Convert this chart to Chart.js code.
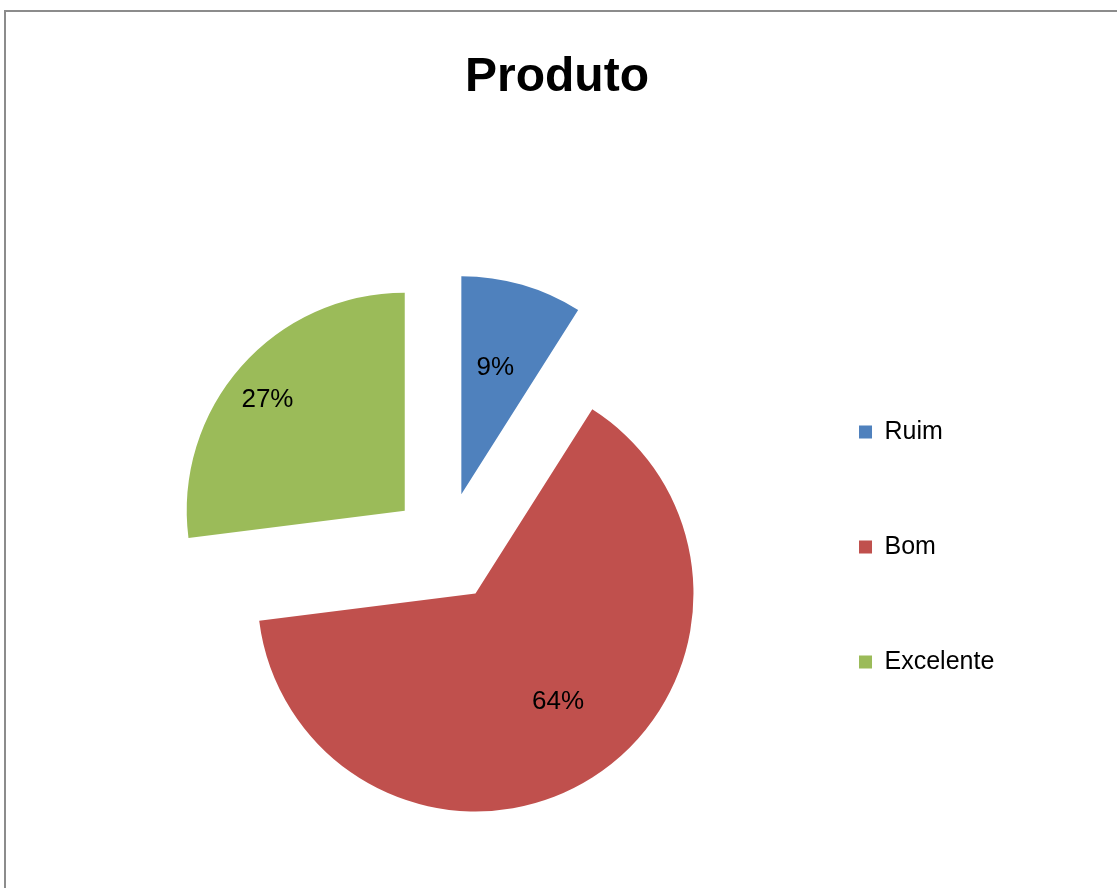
<!DOCTYPE html>
<html>
<head>
<meta charset="utf-8">
<script src="https://cdn.jsdelivr.net/npm/chart.js@4"></script>
<style>
    html, body { margin: 0; padding: 0; background: #fff; }
    #wrap { position: relative; width: 1117px; height: 888px; overflow: hidden; }
    #frame {
        position: absolute; left: 4px; top: 10px; width: 1200px; height: 1000px;
        border-left: 2px solid #8c8c8c; border-top: 2px solid #8c8c8c;
    }
    canvas { position: absolute; left: 0; top: 0; }
</style>
</head>
<body>
<div id="wrap">
    <div id="frame"></div>
    <canvas id="pie-chart" width="1117" height="888"></canvas>
</div>
<script>
let categories = ['Ruim', 'Bom', 'Excelente'];
let percentages = [9, 64, 27];
let colors = ['#4F81BD', '#C0504D', '#9BBB59'];
let chartTitle = 'Produto';

// how far every slice is pulled out of the pie, px
const EXPLODE = 55;
// label placement: distance from slice tip (fraction of radius) and where in the slice's sweep
const labelRadius = [0.60, 0.626, 0.81];
const labelSweep = [0.463, 0.479, 0.475];

// the built-in "offset" also grows the radius of big slices, so move the whole slice instead
class ExplodedArc extends Chart.ArcElement {
    draw(ctx, area) {
        const mid = (this.startAngle + this.endAngle) / 2;
        ctx.save();
        ctx.translate(Math.cos(mid) * EXPLODE, Math.sin(mid) * EXPLODE);
        super.draw(ctx, area);
        ctx.restore();
    }
}
ExplodedArc.id = 'explodedArc';

class ExplodedPie extends Chart.PieController {}
ExplodedPie.id = 'explodedPie';
ExplodedPie.defaults = { dataElementType: 'explodedArc' };

Chart.register(ExplodedArc, ExplodedPie);

const sliceLabels = {
    id: 'sliceLabels',
    afterDatasetsDraw(chart) {
        const ctx = chart.ctx;
        const meta = chart.getDatasetMeta(0);
        ctx.save();
        ctx.font = '26px "Liberation Sans", Arial, sans-serif';
        ctx.fillStyle = '#000';
        ctx.textAlign = 'center';
        ctx.textBaseline = 'middle';
        meta.data.forEach((arc, i) => {
            const p = arc.getProps(['x', 'y', 'startAngle', 'endAngle', 'outerRadius']);
            const mid = (p.startAngle + p.endAngle) / 2;
            const at = p.startAngle + (p.endAngle - p.startAngle) * labelSweep[i];
            // start from the exploded tip, then walk out along the label angle
            const tipX = p.x + Math.cos(mid) * EXPLODE;
            const tipY = p.y + Math.sin(mid) * EXPLODE;
            const d = p.outerRadius * labelRadius[i];
            ctx.fillText(percentages[i] + '%', tipX + Math.cos(at) * d, tipY + Math.sin(at) * d);
        });
        ctx.restore();
    }
};

function drawPie() {
    const ctx = document.getElementById('pie-chart').getContext('2d');
    const data = {
        labels: categories,
        datasets: [{
            data: percentages,
            backgroundColor: colors,
            borderWidth: 0,
            hoverOffset: 0,
        }]
    }
    let myPieChart = new Chart(ctx, {
        type: 'explodedPie',
        data: data,
        options: {
            responsive: false,
            animation: false,
            layout: {
                padding: { left: 123, right: 112.7, top: 0, bottom: 123 }
            },
            plugins: {
                title: {
                    display: true,
                    // trailing space nudges the centred title a little to the left
                    text: chartTitle + ' ',
                    color: '#000',
                    font: { family: '"Liberation Sans", Arial, sans-serif', size: 48, weight: 'bold' },
                    padding: { top: 49, bottom: 222.4 },
                },
                legend: {
                    position: 'right',
                    fullSize: false,
                    labels: {
                        color: '#000',
                        font: { family: '"Liberation Sans", Arial, sans-serif', size: 25 },
                        boxWidth: 13,
                        boxHeight: 13,
                        padding: 90,
                    },
                },
                tooltip: { enabled: false },
            },
        },
        plugins: [sliceLabels],
    })
}

drawPie();
</script>
</body>
</html>
